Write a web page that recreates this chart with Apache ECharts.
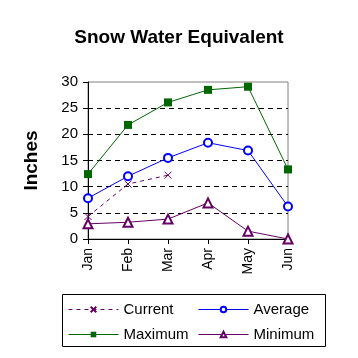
<!DOCTYPE html>
<html><head><meta charset="utf-8">
<script src="https://cdn.jsdelivr.net/npm/echarts@6/dist/echarts.min.js"></script>
<style>html,body{margin:0;padding:0;background:#fff}#c{width:358px;height:358px}</style>
</head><body><div id="c"></div>
<script>
var categories = ['Jan','Feb','Mar','Apr','May','Jun'];
var currentVals = [4.3, 10.5, 12.2];
var averageVals = [7.8, 12.0, 15.5, 18.4, 16.9, 6.2];
var maximumVals = [12.4, 21.8, 26.1, 28.5, 29.1, 13.3];
var minimumVals = [2.9, 3.2, 3.8, 6.9, 1.5, 0.0];
var yTicks = [0, 5, 10, 15, 20, 25, 30];

var FONT = 'Liberation Sans, Arial, sans-serif';
var chart = echarts.init(document.getElementById('c'), null, {renderer: 'canvas'});
function leg(name, left, top) {
  return {data: [name], left: left, top: top, itemWidth: 50, itemHeight: 7, itemGap: 4,
    selectedMode: false, padding: 0,
    lineStyle: {width: 1},
    textStyle: {fontFamily: FONT, fontSize: 15, color: '#000'}};
}
chart.setOption({
  animation: false,
  title: {text: 'Snow Water Equivalent', left: 'center', top: 23,
    textStyle: {fontFamily: FONT, fontSize: 19, fontWeight: 'bold', color: '#000'}},
  grid: {left: 88, right: 70, top: 82, bottom: 119, show: true, borderColor: '#808080', borderWidth: 1},
  legend: [leg('Current', 68, 302), leg('Average', 198, 302), leg('Maximum', 68, 327), leg('Minimum', 198, 327)],
  graphic: [{type: 'rect', shape: {x: 62.5, y: 294.5, width: 263, height: 52},
    style: {fill: 'none', stroke: '#000', lineWidth: 1}, z: 0}],
  xAxis: {type: 'category', data: categories, boundaryGap: false,
    axisLine: {lineStyle: {color: '#000'}},
    axisTick: {show: true, length: 5, inside: false, lineStyle: {color: '#000'}},
    axisLabel: {rotate: 90, margin: 9, fontFamily: FONT, fontSize: 14, color: '#000'},
    splitLine: {show: false}},
  yAxis: {type: 'value', min: yTicks[0], max: yTicks[yTicks.length - 1], interval: 5,
    name: 'Inches', nameLocation: 'middle', nameGap: 47, nameRotate: 90,
    nameTextStyle: {fontFamily: FONT, fontSize: 19, fontWeight: 'bold', color: '#000'},
    axisLine: {show: true, lineStyle: {color: '#000'}},
    axisTick: {show: true, length: 5, lineStyle: {color: '#000'}},
    axisLabel: {margin: 10, fontFamily: FONT, fontSize: 15, color: '#000'},
    splitLine: {show: true, showMinLine: false, showMaxLine: false, lineStyle: {color: '#000', type: [5, 4], width: 1}}},
  series: [
    {name: 'Current', type: 'line', data: currentVals, symbol: 'path://M0,0L10,10M10,0L0,10', symbolSize: 7,
      lineStyle: {color: '#660066', width: 1, type: [4, 4]}, itemStyle: {color: '#660066', borderColor: '#660066', borderWidth: 1}, z: 5},
    {name: 'Average', type: 'line', data: averageVals, symbol: 'emptyCircle', symbolSize: 8,
      lineStyle: {color: '#0000ff', width: 1}, itemStyle: {color: '#0000ff', borderColor: '#0000ff', borderWidth: 1}, z: 4},
    {name: 'Maximum', type: 'line', data: maximumVals, symbol: 'rect', symbolSize: 8,
      lineStyle: {color: '#006600', width: 1}, itemStyle: {color: '#006600'}, z: 3},
    {name: 'Minimum', type: 'line', data: minimumVals, symbol: 'emptyTriangle', symbolSize: 9,
      lineStyle: {color: '#660066', width: 1}, itemStyle: {color: '#660066', borderColor: '#660066', borderWidth: 1}, z: 3}
  ]
});
</script></body></html>
